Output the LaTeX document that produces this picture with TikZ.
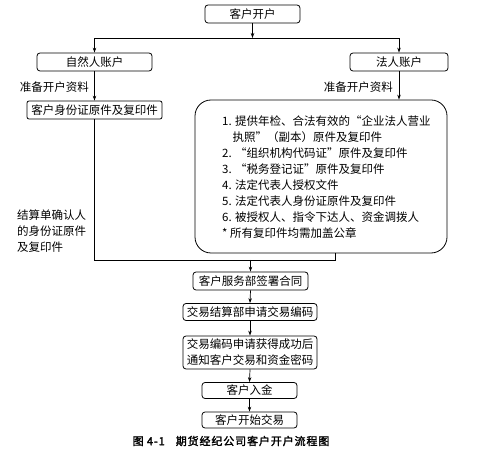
\documentclass[tikz,border=0pt]{standalone}
\usepackage{fontspec}
\setmainfont{Noto Sans CJK SC}[AutoFakeBold=2]
\usetikzlibrary{arrows.meta}
\begin{document}
\begin{tikzpicture}[x=1pt,y=-1pt,
  box/.style={draw, line width=0.8pt, rounded corners=3pt, inner sep=1pt, font=\fontsize{11.5}{16}\selectfont, align=center},
  lbl/.style={font=\fontsize{11.5}{16}\selectfont, align=left, inner sep=0pt},
  arr/.style={line width=0.7pt, -{Stealth[length=5pt,width=3.5pt]}},
  ln/.style={line width=0.7pt}]
\useasboundingbox (0,0) rectangle (498,454);
\node[box, minimum width=95pt, minimum height=18pt] (top) at (252.5,14) {客户开户};
\node[box, minimum width=115pt, minimum height=18pt] (nat) at (94.5,62) {自然人账户};
\node[box, minimum width=98pt, minimum height=18pt] (leg) at (399,62) {法人账户};
\node[box, rounded corners=2pt, minimum width=135pt, minimum height=18pt] (idb) at (94.5,110) {客户身份证原件及复印件};
\node[box, rounded corners=16pt, minimum width=252pt, minimum height=153pt] (big) at (321,176.5) {};
\node[lbl, anchor=west] (bigtxt) at (222,177.5) {%
1. 提供年检、合法有效的“企业法人营业\\
\hspace{0.9em}执照”（副本）原件及复印件\\
2. “组织机构代码证”原件及复印件\\
3. “税务登记证”原件及复印件\\
4. 法定代表人授权文件\\
5. 法定代表人身份证原件及复印件\\
6. 被授权人、指令下达人、资金调拨人\\
{*} 所有复印件均需加盖公章};
\node[lbl, anchor=east] (lp1) at (89,87) {准备开户资料};
\node[lbl, anchor=east] (lp2) at (393,87) {准备开户资料};
\node[lbl, anchor=north west] (conf) at (17,210) {结算单确认人\\的身份证原件\\及复印件};
\node[box, minimum width=115pt, minimum height=18pt] (sign) at (250.5,281) {客户服务部签署合同};
\node[box, minimum width=134pt, minimum height=17pt] (code) at (250,312) {交易结算部申请交易编码};
\node[box, minimum width=134pt, minimum height=33pt] (note) at (250,352.5) {交易编码申请获得成功后\\通知客户交易和资金密码};
\node[box, minimum width=95pt, minimum height=16pt] (dep) at (249.5,390.5) {客户入金};
\node[box, minimum width=95pt, minimum height=16pt] (start) at (249.5,420) {客户开始交易};
\node[font=\fontsize{11}{12}\selectfont\bfseries\addfontfeatures{LetterSpace=8}, inner sep=0pt] (cap) at (231,441) {图 4-1\quad 期货经纪公司客户开户流程图};
\coordinate (split) at (252.5,38);
\coordinate (jR) at (335,260);
\coordinate (jM) at (250.5,260);
\draw[arr] (top.south) -- (split);
\draw[arr] (split) -| (nat.north);
\draw[arr] (split) -| (leg.north);
\draw[arr] (nat.south) -- (idb.north);
\draw[arr] (leg.south) -- (leg.south |- big.north);
\draw[ln] (idb.south) |- (jR) -- (jR |- big.south);
\draw[arr] (jM) -- (sign.north);
\draw[arr] (sign.south) -- (code.north);
\draw[arr] (code.south) -- (note.north);
\draw[arr] (note.south) -- (dep.north);
\draw[arr] (dep.south) -- (start.north);
\end{tikzpicture}
\end{document}
